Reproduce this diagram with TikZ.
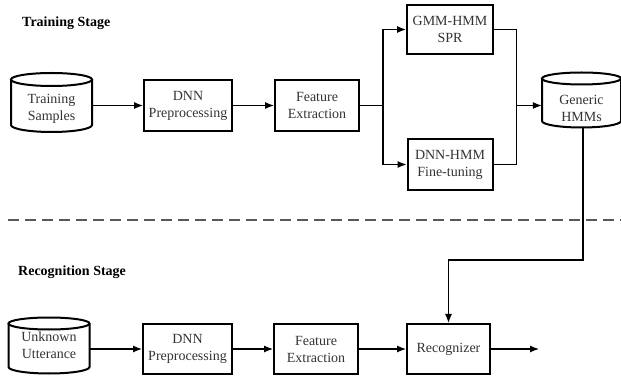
\documentclass[tikz,border=0pt]{standalone}
\usepackage{fontspec}
\setmainfont{Liberation Serif}
\usetikzlibrary{arrows.meta}
\tikzset{
  boxnode/.style={draw=black, line width=2pt, rectangle, align=center, inner sep=0pt,
    font=\fontsize{14}{17}\selectfont, text=black!80},
  cylnode/.style={rectangle, align=center, inner sep=0pt,
    font=\fontsize{14}{17}\selectfont, text=black!80},
  cylline/.style={draw=black, line width=2pt},
  conn/.style={draw=black, line width=1.2pt},
  arr/.style={conn, -{Latex[length=9pt,width=7pt]}},
  stagelabel/.style={font=\bfseries\fontsize{14}{17}\selectfont, anchor=west, inner sep=0pt},
  divider/.style={draw=black!65, line width=2pt, dash pattern=on 11pt off 6pt}
}
\begin{document}
\begin{tikzpicture}[x=1pt,y=-1pt]
\useasboundingbox (0,0) rectangle (621,379);

% stage labels
\node[stagelabel] (lt) at (22,23) {Training Stage};
\node[stagelabel] (lr) at (18,272) {Recognition Stage};

% divider
\coordinate (dl) at (8,220);
\coordinate (dr) at (621,220);
\draw[divider] (dl) -- (dr);

% ---- Training row ----
% Training Samples cylinder
\draw[cylline] (51.5,79.5) ellipse[x radius=40.5, y radius=6.5];
\draw[cylline] (11,79.5) -- (11,125) arc[start angle=180, end angle=0, x radius=40.5, y radius=7] -- (92,79.5);
\node[cylnode, minimum width=81, minimum height=59] (ts) at (51.5,109) {Training\\Samples};

\node[boxnode, minimum width=88, minimum height=51] (dnn1) at (188,105.5) {DNN\\Preprocessing};
\node[boxnode, minimum width=84, minimum height=51] (fe1) at (317,105.5) {Feature\\Extraction};
\node[boxnode, minimum width=86, minimum height=49] (gmm) at (450,29.5) {GMM-HMM\\SPR};
\node[boxnode, minimum width=85, minimum height=51] (dh) at (450,164.5) {DNN-HMM\\Fine-tuning};

% Generic HMMs cylinder
\draw[cylline] (581.5,78.5) ellipse[x radius=39.5, y radius=6];
\draw[cylline] (542,78.5) -- (542,121) arc[start angle=180, end angle=0, x radius=39.5, y radius=6.5] -- (621,78.5);
\node[cylnode, minimum width=79, minimum height=55] (gh) at (581.5,108) {Generic\\HMMs};

% ---- Recognition row ----
\draw[cylline] (49,323.5) ellipse[x radius=40.5, y radius=6];
\draw[cylline] (8.5,323.5) -- (8.5,367) arc[start angle=180, end angle=0, x radius=40.5, y radius=6.5] -- (89.5,323.5);
\node[cylnode, minimum width=81, minimum height=55] (uu) at (49,345) {Unknown\\Utterance};

\node[boxnode, minimum width=89, minimum height=50] (dnn2) at (187.5,349) {DNN\\Preprocessing};
\node[boxnode, minimum width=84, minimum height=50] (fe2) at (316,349) {Feature\\Extraction};
\node[boxnode, minimum width=83, minimum height=50] (rec) at (448.5,349) {Recognizer};
\coordinate (out) at (539,349);

% ---- connectors ----
\draw[arr] (ts.east |- dnn1.west) -- (dnn1.west);
\draw[arr] (dnn1.east) -- (fe1.west);
\coordinate (split) at (383,105.5);
\draw[conn] (fe1.east) -- (split);
\draw[arr] (split) |- (gmm.west);
\draw[arr] (split) |- (dh.west);
\coordinate (join) at (516.5,105.5);
\draw[conn] (gmm.east) -| (join);
\draw[conn] (dh.east) -| (join);
\draw[arr] (join) -- (gh.west |- join);
\coordinate (gdown) at (583,260);
\draw[arr] (583,127) -- (gdown) -| (rec.north);

\draw[arr] (uu.east |- dnn2.west) -- (dnn2.west);
\draw[arr] (dnn2.east) -- (fe2.west);
\draw[arr] (fe2.east) -- (rec.west);
\draw[arr] (rec.east) -- (out);
\end{tikzpicture}
\end{document}
